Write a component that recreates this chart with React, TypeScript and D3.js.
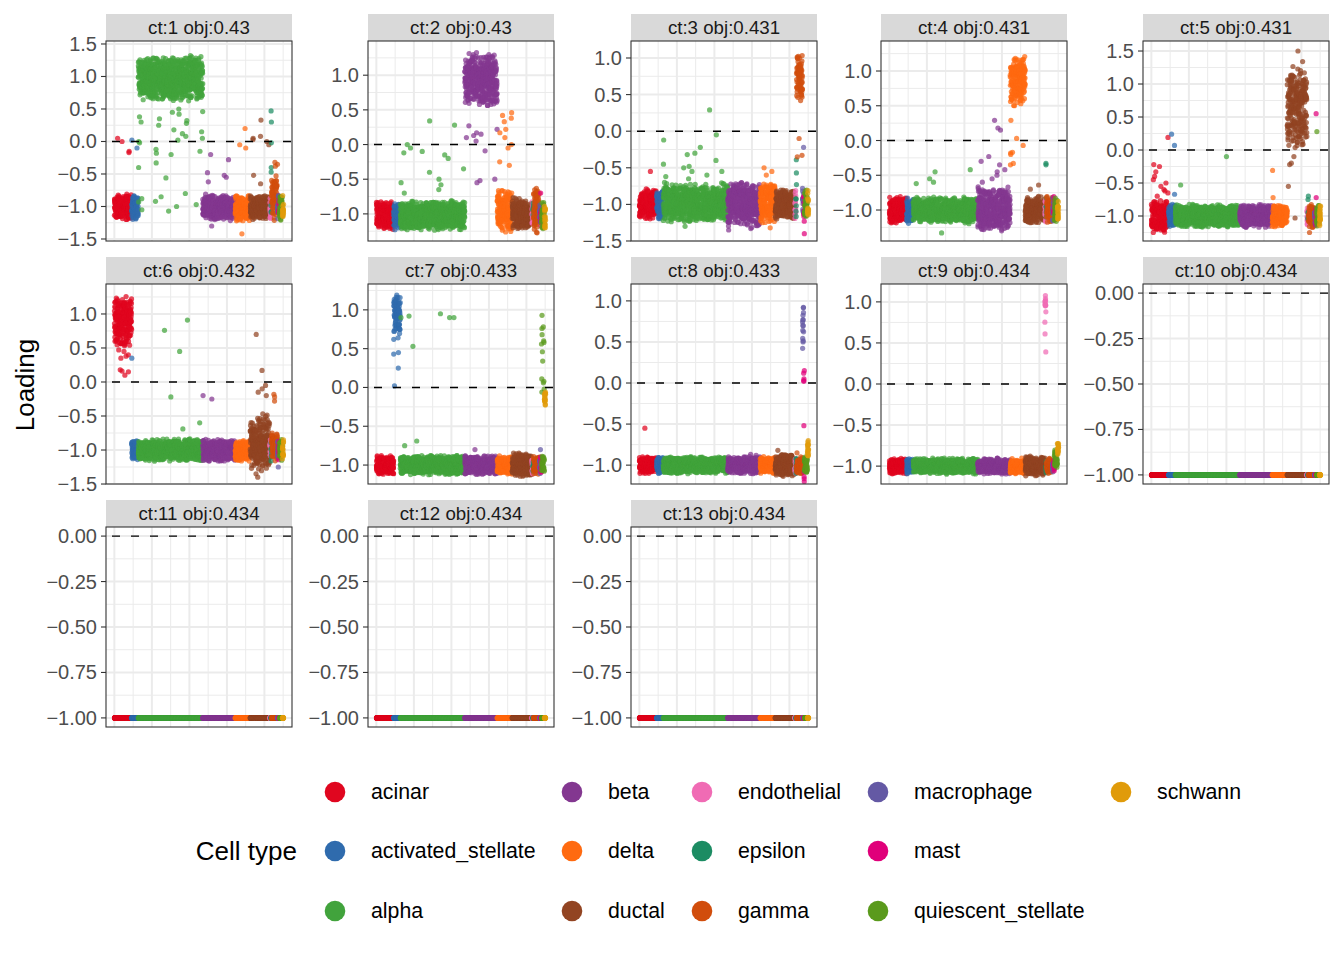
import React, { useEffect, useRef } from "react";
import * as d3 from "d3";

// cell types in plotting order, their colours and how many cells each has
const cellTypes = [
  "acinar", "activated_stellate", "alpha", "beta", "delta", "ductal", "endothelial",
  "epsilon", "gamma", "macrophage", "mast", "quiescent_stellate", "schwann",
];
const cellColors = [
  "#E0061F", "#2F6BAD", "#41A33C", "#833790", "#FF6A10", "#924422", "#F06BB4",
  "#1C8C63", "#D14D0C", "#6459A4", "#E0007A", "#5A9A1C", "#E09B0A",
];
const cellCounts = [230, 88, 860, 432, 200, 262, 14, 8, 80, 15, 10, 40, 16];

const facetTitles = [
  "ct:1 obj:0.43", "ct:2 obj:0.43", "ct:3 obj:0.431", "ct:4 obj:0.431", "ct:5 obj:0.431",
  "ct:6 obj:0.432", "ct:7 obj:0.433", "ct:8 obj:0.433", "ct:9 obj:0.434", "ct:10 obj:0.434",
  "ct:11 obj:0.434", "ct:12 obj:0.434", "ct:13 obj:0.434",
];

// data range of each facet (free y scales)
const facetYRange: [number, number][] = [
  [-1.391, 1.406], [-1.26, 1.362], [-1.376, 1.108], [-1.315, 1.301], [-1.241, 1.514],
  [-1.366, 1.307], [-1.127, 1.216], [-1.119, 1.095], [-1.107, 1.107], [-1, 0],
  [-1, 0], [-1, 0], [-1, 0],
];
const ticksA = [-1.5, -1, -0.5, 0, 0.5, 1, 1.5];
const ticksB = [-1, -0.5, 0, 0.5, 1];
const ticksC = [-1.5, -1, -0.5, 0, 0.5, 1];
const ticksD = [-1, -0.5, 0, 0.5, 1, 1.5];
const ticksE = [-1, -0.75, -0.5, -0.25, 0];
const facetYTicks = [ticksA, ticksB, ticksC, ticksB, ticksD, ticksC, ticksB, ticksB, ticksB, ticksE, ticksE, ticksE, ticksE];

// typical loading (centre, half spread) of every cell type in a facet
const facetBaseline: [number, number][] = [
  [-1.01, 0.21], [-1.02, 0.22], [-1.0, 0.22], [-1.0, 0.2], [-1.0, 0.18],
  [-1.0, 0.17], [-1.0, 0.13], [-1.0, 0.11], [-1.0, 0.1], [-1, 0],
  [-1, 0], [-1, 0], [-1, 0],
];
// [cell type, centre, half spread] where a type differs from the baseline
const facetOverrides: [number, number, number][][] = [
  [[2, 0.97, 0.36], [8, -0.85, 0.4], [4, -1.03, 0.22]],
  [[3, 0.93, 0.42], [4, -0.95, 0.34], [8, -0.95, 0.34], [5, -1.0, 0.24]],
  [[8, 0.73, 0.33], [3, -1.0, 0.32], [2, -0.98, 0.28], [4, -0.98, 0.3]],
  [[4, 0.86, 0.4], [3, -0.98, 0.32]],
  [[5, 0.68, 0.68], [0, -1.0, 0.26]],
  [[0, 0.88, 0.42], [5, -0.9, 0.44], [8, -0.95, 0.22]],
  [[1, 0.93, 0.3], [12, -0.14, 0.13], [5, -1.0, 0.16]],
  [[9, 0.73, 0.37], [12, -0.8, 0.12], [10, -1.12, 0.1], [5, -1.0, 0.14]],
  [[6, 0.92, 0.17], [12, -0.8, 0.13], [11, -0.92, 0.12], [5, -1.0, 0.13]],
  [], [], [], [],
];
// single cells: [cell type, loadings]
const facetOutliers: [number, number[]][][] = [
  [
    [0, [0.05, 0.0, -0.15, -0.17]],
    [1, [0.02, -0.1, -0.93]],
    [2, [0.5, 0.46, 0.45, 0.42, 0.38, 0.35, 0.32, 0.3, 0.28, 0.25, 0.18, 0.15, 0.12, 0.08, 0.05, 0.02, 0.0, -0.02, -0.12, -0.15, -0.18, -0.2, -0.33, -0.4, -0.56, -0.8, -0.85, -0.88, -0.92, -1.0, -1.05, -1.07, -0.97, -0.93]],
    [3, [-0.28, -0.2, -0.48, -0.52, -0.55, -0.62, -1.3]],
    [4, [0.2, -0.05, -0.1, -1.42]],
    [5, [0.33, 0.08, 0.05, 0.03, 0.0, -0.05, -0.52, -0.65]],
    [7, [0.47, 0.3, -0.02, -0.4, -0.47]],
    [8, [-0.32, -0.35, -0.38]],
  ],
  [
    [3, [0.27, 0.22, 0.17, 0.13, 0.1, 0.15, -0.09, -0.52, -0.55, -0.5, 0.05]],
    [4, [0.46, 0.42, 0.38, 0.33, 0.22, 0.17, 0.1, 0.0, -0.05, -0.25, -0.3]],
    [2, [0.34, 0.28, 0.0, -0.05, -0.1, -0.15, -0.2, -0.12, -0.35, -0.4, -0.5, -0.55, -0.58, -0.65, -0.7]],
    [10, [-0.7]],
  ],
  [
    [8, [-0.1, -0.33, -0.35]],
    [7, [-0.39, -0.57, -0.73]],
    [9, [-0.22, -0.78]],
    [2, [0.29, -0.05, -0.12, -0.22, -0.3, -0.32, -0.4, -0.45, -0.5, -0.55, -0.6, -0.62, -0.65, -0.7, -0.72, -0.55, -0.48, -1.3]],
    [0, [-0.55]],
    [4, [-0.5, -0.55, -0.6, -1.32]],
    [10, [-1.23, -1.4]],
    [3, [-1.35, -1.33]],
  ],
  [
    [4, [0.29, 0.03, -0.07, -0.17, -0.18, -0.2, -0.33, -0.35]],
    [3, [0.29, 0.18, 0.15, -0.23, -0.3, -0.35, -0.42, -0.45, -0.5, -0.55, -0.6, -1.3]],
    [2, [-0.42, -0.45, -0.55, -0.6, -0.62, -1.33]],
    [7, [-0.33, -0.35]],
    [5, [-0.64, -0.7]],
  ],
  [
    [5, [1.5, -0.1, -0.2, -0.22, -0.55, -1.03]],
    [0, [0.19, -0.22, -0.25, -0.33, -0.4, -0.45, -0.5, -0.55, -0.6, -0.62, -0.65, -0.7]],
    [1, [0.24, 0.07, -0.67]],
    [2, [-0.1, -0.53]],
    [4, [-0.31, -0.72]],
    [7, [-0.7, -0.75]],
    [10, [0.55, -0.72]],
    [11, [0.28]],
    [8, [-1.25]],
  ],
  [
    [0, [0.35, 0.4, 0.45, 0.38, 0.15, 0.16, 0.18, 0.1]],
    [1, [0.35]],
    [2, [0.91, 0.76, 0.45, -0.22, -0.69, -0.6]],
    [3, [-0.2, -0.25]],
    [5, [0.7, 0.17, -0.05, -0.1, -0.15, -0.2, -1.4, -1.35]],
    [8, [-0.18, -0.22, -0.28]],
    [9, [-1.25]],
  ],
  [
    [1, [0.45, 0.43, 0.25, 0.02, 0.62, 0.64]],
    [2, [0.9, 0.9, 0.92, 0.95, 0.9, 0.53, -0.69, -0.75]],
    [3, [-0.8]],
    [4, [-0.9, -0.88]],
    [9, [-0.8]],
    [11, [0.93, 0.78, 0.76, 0.68, 0.6, 0.58, 0.56, 0.46, 0.34, 0.11, 0.08, 0.06, -0.02, -0.06]],
  ],
  [
    [10, [0.15, 0.12, 0.05, 0.03, 0.02, -0.52]],
    [0, [-0.55]],
    [3, [-0.87, -0.88]],
    [5, [-0.82]],
    [8, [-0.85]],
    [6, [-1.1]],
  ],
  [
    [6, [0.61, 0.39]],
    [7, [-1.08]],
  ],
  [], [], [], [],
];

const xMajor = [0, 500, 1000, 1500, 2000];
const xMinor = [250, 750, 1250, 1750, 2250];

// layout
const W = 1344;
const H = 960;
const panelLefts = [106, 368, 631, 881, 1143];
const panelTops = [41, 284, 527];
const panelW = 186;
const panelH = 200;
const stripH = 27;
const legendColX = [335, 572, 702, 878, 1121];
const legendRowY = [792, 851, 911];
const FONT = "'Liberation Sans', Arial, Helvetica, sans-serif";

// deterministic jitter inside a cluster
const hash = (n: number) => {
  const s = Math.sin(n * 12.9898 + 78.233) * 43758.5453;
  return s - Math.floor(s);
};

const typeStarts = cellCounts.map((_, i) => d3.sum(cellCounts.slice(0, i)));
const N = d3.sum(cellCounts);
const typeOf: number[] = [];
cellCounts.forEach((c, t) => { for (let k = 0; k < c; k++) typeOf.push(t); });

function facetPoints(f: number) {
  const [bc, bs] = facetBaseline[f];
  const centre = cellTypes.map(() => bc);
  const spread = cellTypes.map(() => bs);
  facetOverrides[f].forEach(([t, c, s]) => { centre[t] = c; spread[t] = s; });
  const ys: number[] = typeOf.map((t, i) => {
    const u1 = hash(i * 3.17 + f * 791.3);
    const u2 = hash(i * 5.71 + f * 104.9 + 0.5);
    return centre[t] + spread[t] * (0.7 * (2 * u1 - 1) + 0.3 * (2 * u2 - 1));
  });
  facetOutliers[f].forEach(([t, vals]) => {
    const used = new Set<number>();
    vals.forEach((v, k) => {
      if (used.size >= cellCounts[t]) return;
      let j = Math.floor(hash(f * 131.7 + t * 17.3 + k * 3.31) * cellCounts[t]);
      while (used.has(j)) j = (j + 1) % cellCounts[t];
      used.add(j);
      ys[typeStarts[t] + j] = v;
    });
  });
  return ys.map((y, i) => ({ x: i + 1, y, t: typeOf[i] }));
}

// ggplot style labels with a real minus sign
const tickLabel = (v: number, digits: number) =>
  (v < 0 ? "\u2212" : "") + Math.abs(v).toFixed(digits);

const LoadingFacets: React.FC = () => {
  const svgRef = useRef<SVGSVGElement | null>(null);

  useEffect(() => {
    const svg = d3.select(svgRef.current);
    svg.selectAll("*").remove();
    svg.append("rect").attr("width", W).attr("height", H).attr("fill", "white");

    const defs = svg.append("defs");

    facetTitles.forEach((title, f) => {
      const col = f % 5;
      const row = Math.floor(f / 5);
      const g = svg.append("g").attr("transform", `translate(${panelLefts[col]},${panelTops[row]})`);

      const xPad = 0.05 * (N - 1);
      const x = d3.scaleLinear().domain([1 - xPad, N + xPad]).range([0, panelW]);
      const [lo, hi] = facetYRange[f];
      const yPad = 0.05 * (hi - lo);
      const y = d3.scaleLinear().domain([lo - yPad, hi + yPad]).range([panelH, 0]);
      const ticks = facetYTicks[f];
      const step = ticks[1] - ticks[0];
      const yMinor = d3.range(-1, ticks.length).map((i) => ticks[0] + step * (i + 0.5))
        .filter((v) => v > y.domain()[0] && v < y.domain()[1]);

      // strip
      g.append("rect").attr("x", 0).attr("y", -stripH).attr("width", panelW).attr("height", stripH)
        .attr("fill", "#D9D9D9");
      g.append("text").attr("x", panelW / 2).attr("y", -stripH / 2).attr("text-anchor", "middle")
        .attr("dominant-baseline", "central").attr("font-family", FONT).attr("font-size", 18.7)
        .attr("fill", "#1A1A1A").text(title);

      // grid
      g.selectAll(".gxm").data(xMinor).enter().append("line")
        .attr("x1", (d) => x(d)).attr("x2", (d) => x(d)).attr("y1", 0).attr("y2", panelH)
        .attr("stroke", "#EBEBEB").attr("stroke-width", 1);
      g.selectAll(".gym").data(yMinor).enter().append("line")
        .attr("y1", (d) => y(d)).attr("y2", (d) => y(d)).attr("x1", 0).attr("x2", panelW)
        .attr("stroke", "#EBEBEB").attr("stroke-width", 1);
      g.selectAll(".gxM").data(xMajor).enter().append("line")
        .attr("x1", (d) => x(d)).attr("x2", (d) => x(d)).attr("y1", 0).attr("y2", panelH)
        .attr("stroke", "#EBEBEB").attr("stroke-width", 2);
      g.selectAll(".gyM").data(ticks).enter().append("line")
        .attr("y1", (d) => y(d)).attr("y2", (d) => y(d)).attr("x1", 0).attr("x2", panelW)
        .attr("stroke", "#EBEBEB").attr("stroke-width", 2);

      // points
      const clipId = `clip-${f}`;
      defs.append("clipPath").attr("id", clipId).append("rect")
        .attr("width", panelW).attr("height", panelH);
      g.append("g").attr("clip-path", `url(#${clipId})`)
        .selectAll("circle").data(facetPoints(f)).enter().append("circle")
        .attr("cx", (d) => x(d.x)).attr("cy", (d) => y(d.y)).attr("r", 2.6)
        .attr("fill", (d) => cellColors[d.t]).attr("fill-opacity", 0.72);

      // zero line
      g.append("line").attr("x1", 0).attr("x2", panelW).attr("y1", y(0)).attr("y2", y(0))
        .attr("stroke", "black").attr("stroke-width", 1.4)
        .attr("stroke-dasharray", "8,11").attr("stroke-dashoffset", 13);

      // border
      g.append("rect").attr("width", panelW).attr("height", panelH).attr("fill", "none")
        .attr("stroke", "#333333").attr("stroke-width", 1.1);

      // y axis
      const digits = f >= 9 ? 2 : 1;
      ticks.forEach((v) => {
        g.append("line").attr("x1", -5).attr("x2", 0).attr("y1", y(v)).attr("y2", y(v))
          .attr("stroke", "#333333").attr("stroke-width", 1.1);
        g.append("text").attr("x", -9).attr("y", y(v)).attr("text-anchor", "end")
          .attr("dominant-baseline", "central").attr("font-family", FONT).attr("font-size", 20)
          .attr("fill", "#4D4D4D").text(tickLabel(v, digits));
      });
    });

    // y title
    svg.append("text").attr("transform", "translate(25,385) rotate(-90)").attr("text-anchor", "middle")
      .attr("dominant-baseline", "central").attr("font-family", FONT).attr("font-size", 26)
      .attr("fill", "black").text("Loading");

    // legend
    svg.append("text").attr("x", 297).attr("y", legendRowY[1]).attr("text-anchor", "end")
      .attr("dominant-baseline", "central").attr("font-family", FONT).attr("font-size", 26)
      .attr("fill", "black").text("Cell type");
    cellTypes.forEach((name, i) => {
      const cx = legendColX[Math.floor(i / 3)];
      const cy = legendRowY[i % 3];
      svg.append("circle").attr("cx", cx).attr("cy", cy).attr("r", 10.3).attr("fill", cellColors[i]);
      svg.append("text").attr("x", cx + 36).attr("y", cy).attr("dominant-baseline", "central")
        .attr("font-family", FONT).attr("font-size", 21.3).attr("fill", "black").text(name);
    });
  }, []);

  return <svg ref={svgRef} width={W} height={H} style={{ position: "absolute", left: 0, top: 0 }} />;
};

export default function App() {
  return <LoadingFacets />;
}
